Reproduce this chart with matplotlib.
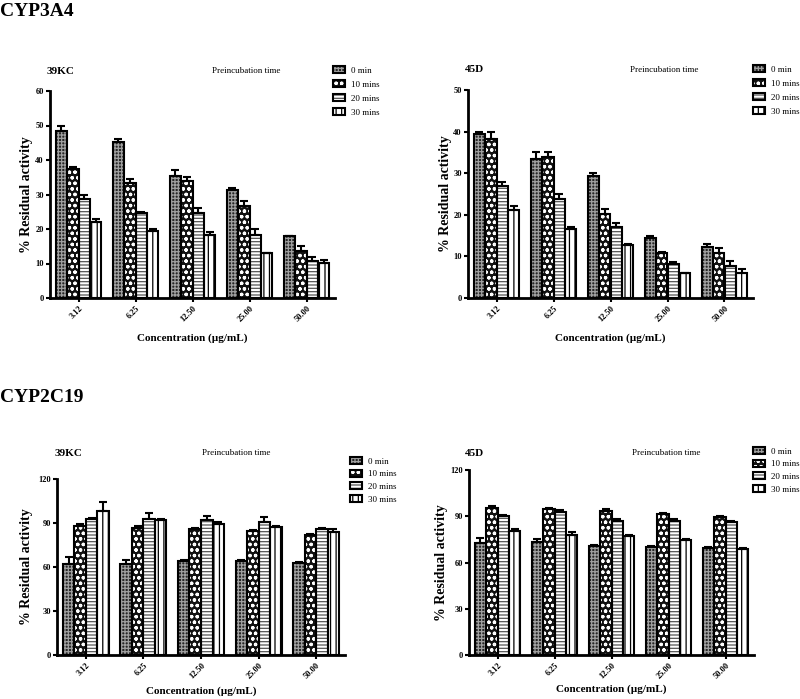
import matplotlib
matplotlib.use("Agg")
import matplotlib.pyplot as plt
from matplotlib.patches import Patch
from matplotlib.legend_handler import HandlerTuple
import numpy as np

plt.rcParams['font.family'] = ['Liberation Serif', 'DejaVu Serif']
plt.rcParams['hatch.linewidth'] = 0.9

concentrations = ["3.12", "6.25", "12.50", "25.00", "50.00"]
series_labels = ["0 min", "10 mins", "20 mins", "30 mins"]

# CYP3A4 - 39KC
a4_39kc_mean = [
    [48.5, 45.2, 35.5, 31.4, 17.9],
    [37.3, 33.2, 34.0, 26.6, 13.6],
    [28.7, 24.5, 24.7, 18.2, 10.8],
    [22.0, 19.3, 18.3, 12.9, 10.2],
]
a4_39kc_err = [
    [1.5, 0.8, 1.5, 0.6, 0.2],
    [0.7, 1.3, 1.0, 1.4, 1.4],
    [1.3, 0.5, 1.3, 1.8, 1.2],
    [1.0, 0.7, 0.7, 0.2, 0.8],
]
# CYP3A4 - 45D
a4_45d_mean = [
    [39.5, 33.5, 29.3, 14.5, 12.2],
    [38.3, 34.0, 20.2, 10.9, 10.9],
    [27.0, 23.9, 17.0, 8.1, 7.8],
    [21.1, 16.6, 12.7, 5.9, 6.0],
]
a4_45d_err = [
    [0.4, 1.5, 0.7, 0.5, 0.8],
    [1.6, 1.0, 1.2, 0.2, 1.1],
    [1.0, 1.1, 1.0, 0.5, 1.0],
    [0.9, 0.4, 0.4, 0.1, 1.0],
]
# CYP2C19 - 39KC
c19_39kc_mean = [
    [62.0, 62.0, 64.0, 64.0, 63.0],
    [88.0, 86.5, 86.0, 84.5, 81.7],
    [92.8, 92.5, 92.0, 91.0, 86.0],
    [98.5, 92.0, 89.5, 87.5, 84.0],
]
c19_39kc_err = [
    [5.0, 3.0, 0.5, 0.5, 0.5],
    [1.0, 1.5, 0.5, 0.5, 0.5],
    [0.8, 4.5, 3.0, 3.0, 0.5],
    [5.5, 0.5, 1.5, 0.5, 2.0],
]
# CYP2C19 - 45D
c19_45d_mean = [
    [72.9, 73.0, 71.0, 70.0, 69.5],
    [95.1, 94.8, 93.5, 91.5, 89.5],
    [90.2, 92.5, 87.0, 86.7, 86.0],
    [80.6, 78.0, 77.0, 74.5, 69.0],
]
c19_45d_err = [
    [3.0, 2.5, 0.5, 0.5, 0.5],
    [1.8, 0.7, 1.0, 0.5, 0.5],
    [0.3, 1.5, 1.0, 1.3, 1.0],
    [1.4, 1.5, 1.0, 0.5, 0.2],
]

styles = [
    dict(face="#262626", hatch="+++++", hcol="#a0a0a0"),
    dict(face="#111111", hatch="ooo", hcol="white"),
    dict(face="white", hatch="-----", hcol="#555555"),
    dict(face="white", hatch="|||", hcol="black"),
]

fig = plt.figure(figsize=(8.0, 6.99), dpi=100)

W, H = 800.0, 699.0
def fr(l, r, t, b):
    return [l / W, 1 - b / H, (r - l) / W, (b - t) / H]

panels = [
    dict(rect=fr(50, 335, 91, 298), mean=a4_39kc_mean, err=a4_39kc_err, ymax=60, step=10,
         name="39KC", name_xy=(47, 71), pre_xy=(212, 71), leg=(333, 66, 0.6),
         xl=-0.17, yl=-0.06),
    dict(rect=fr(468, 753, 90, 298), mean=a4_45d_mean, err=a4_45d_err, ymax=50, step=10,
         name="45D", name_xy=(465, 70), pre_xy=(630, 70), leg=(753, 65, 0.6),
         xl=-0.17, yl=-0.056),
    dict(rect=fr(57, 345, 479, 655), mean=c19_39kc_mean, err=c19_39kc_err, ymax=120, step=30,
         name="39KC", name_xy=(55, 453), pre_xy=(202, 453), leg=(350, 457, 0.45),
         xl=-0.18, yl=-0.083),
    dict(rect=fr(469, 754, 470, 655), mean=c19_45d_mean, err=c19_45d_err, ymax=120, step=30,
         name="45D", name_xy=(465, 453), pre_xy=(632, 453), leg=(753, 447, 0.45),
         xl=-0.16, yl=-0.074),
]

x = np.arange(len(concentrations))
bw = 0.2

for p in panels:
    ax = fig.add_axes(p["rect"])
    handles = []
    for i, (m, e) in enumerate(zip(p["mean"], p["err"])):
        st = styles[i]
        pos = x - 0.3 + i * bw
        ax.bar(pos, m, bw, color=st["face"], hatch=st["hatch"], edgecolor=st["hcol"],
               linewidth=0, zorder=2)
        ax.bar(pos, m, bw, fill=False, edgecolor="black", linewidth=1.5, zorder=3)
        ax.errorbar(pos, m, yerr=[np.zeros(len(e)), e], fmt="none", ecolor="black",
                    elinewidth=1.5, capsize=3, capthick=1.5, zorder=4)
        h1 = Patch(facecolor=st["face"], hatch=st["hatch"], edgecolor=st["hcol"], linewidth=0)
        h2 = Patch(fill=False, edgecolor="black", linewidth=1.5)
        handles.append((h1, h2))
    ax.set_xlim(-0.5, 4.5)
    ax.set_ylim(0, p["ymax"])
    ax.set_yticks(np.arange(0, p["ymax"] + 1, p["step"]))
    ax.set_xticks(x)
    ax.set_xticklabels(concentrations, rotation=45, ha="right", rotation_mode="anchor",
                       fontsize=6, fontweight="bold")
    for lab in ax.get_yticklabels():
        lab.set_fontsize(6)
        lab.set_fontweight("bold")
    ax.tick_params(axis="both", width=1.5, length=3, pad=1.5)
    for s in ["top", "right"]:
        ax.spines[s].set_visible(False)
    for s in ["left", "bottom"]:
        ax.spines[s].set_linewidth(2)
    ax.set_ylabel("% Residual activity", fontsize=10, fontweight="bold")
    ax.yaxis.set_label_coords(p["yl"], 0.5)
    ax.set_xlabel("Concentration (\u00b5g/mL)", fontsize=8, fontweight="bold")
    ax.xaxis.set_label_coords(0.5, p["xl"])

    fig.text(p["name_xy"][0] / W, 1 - p["name_xy"][1] / H, p["name"], fontsize=8,
             fontweight="bold", va="center", ha="left")
    fig.text(p["pre_xy"][0] / W, 1 - p["pre_xy"][1] / H, "Preincubation time", fontsize=6.5,
             va="center", ha="left")
    lx, ly, ls = p["leg"]
    ax.legend(handles, series_labels, loc="upper left",
              bbox_to_anchor=(lx / W, 1 - ly / H), bbox_transform=fig.transFigure,
              frameon=False, fontsize=6.5, handlelength=1.3, handleheight=0.8,
              labelspacing=ls, borderpad=0, borderaxespad=0, handletextpad=0.7,
              handler_map={tuple: HandlerTuple(ndivide=1)})

fig.text(0.0, 1 - 16 / H, "CYP3A4", fontsize=14, fontweight="bold", va="baseline", ha="left")
fig.text(0.0, 1 - 402 / H, "CYP2C19", fontsize=14, fontweight="bold", va="baseline", ha="left")

fig.savefig("out.png", dpi=100)
